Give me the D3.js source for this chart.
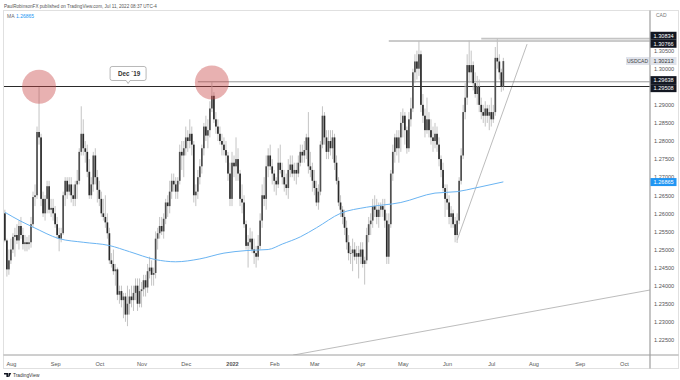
<!DOCTYPE html>
<html><head><meta charset="utf-8">
<script src="https://cdn.jsdelivr.net/npm/d3@7"></script>
<style>body{margin:0;background:#fff}svg{display:block}text{font-family:"Liberation Sans",Arial,sans-serif}</style>
</head><body><svg id="c" width="680" height="380"></svg>
<script>
// ---------- DATA (USDCAD daily, [open, high, low, close]) ----------
const jul21=[[1.2600,1.2610,1.2520,1.2525],[1.2525,1.2530,1.2425,1.2445],[1.2445,1.2500,1.2430,1.2470]];
const aug21=[[1.2470,1.2530,1.2460,1.2500],[1.2500,1.2545,1.2490,1.2535],[1.2535,1.2560,1.2480,1.2540],[1.2540,1.2570,1.2515,1.2525],[1.2525,1.2580,1.2500,1.2565],
[1.2565,1.2590,1.2530,1.2540],[1.2540,1.2560,1.2500,1.2515],[1.2515,1.2540,1.2495,1.2520],[1.2520,1.2535,1.2495,1.2515],[1.2515,1.2540,1.2500,1.2520],
[1.2520,1.2590,1.2505,1.2570],[1.2570,1.2660,1.2560,1.2645],[1.2645,1.2680,1.2620,1.2650],[1.2650,1.2840,1.2640,1.2825],[1.2825,1.2949,1.2790,1.2810],
[1.2810,1.2820,1.2620,1.2640],[1.2640,1.2660,1.2590,1.2600],[1.2600,1.2650,1.2580,1.2640],[1.2640,1.2690,1.2600,1.2675],[1.2675,1.2690,1.2600,1.2610],
[1.2610,1.2640,1.2590,1.2615],[1.2615,1.2640,1.2580,1.2600]];
const sep21=[[1.2600,1.2620,1.2560,1.2570],[1.2570,1.2590,1.2530,1.2540],[1.2540,1.2560,1.2495,1.2530],[1.2530,1.2560,1.2520,1.2545],[1.2545,1.2660,1.2540,1.2650],
[1.2650,1.2700,1.2620,1.2690],[1.2690,1.2700,1.2640,1.2660],[1.2660,1.2700,1.2650,1.2680],[1.2680,1.2700,1.2630,1.2650],[1.2650,1.2680,1.2620,1.2640],
[1.2640,1.2690,1.2620,1.2680],[1.2680,1.2720,1.2640,1.2690],[1.2690,1.2780,1.2680,1.2770],[1.2770,1.2896,1.2760,1.2820],[1.2820,1.2860,1.2760,1.2780],
[1.2780,1.2800,1.2740,1.2770],[1.2770,1.2790,1.2700,1.2715],[1.2715,1.2750,1.2640,1.2650],[1.2650,1.2700,1.2640,1.2680],[1.2680,1.2770,1.2660,1.2760],
[1.2760,1.2780,1.2680,1.2700],[1.2700,1.2720,1.2630,1.2665]];
const oct21=[[1.2665,1.2690,1.2620,1.2640],[1.2640,1.2660,1.2590,1.2600],[1.2600,1.2640,1.2580,1.2590],[1.2590,1.2650,1.2560,1.2575],[1.2575,1.2600,1.2530,1.2545],
[1.2545,1.2560,1.2460,1.2470],[1.2470,1.2490,1.2450,1.2460],[1.2460,1.2500,1.2430,1.2440],[1.2440,1.2460,1.2400,1.2445],[1.2445,1.2450,1.2360,1.2375],
[1.2375,1.2400,1.2350,1.2385],[1.2385,1.2400,1.2340,1.2360],[1.2360,1.2380,1.2310,1.2370],[1.2370,1.2380,1.2300,1.2320],[1.2320,1.2400,1.2288,1.2350],
[1.2350,1.2390,1.2320,1.2370],[1.2370,1.2400,1.2340,1.2360],[1.2360,1.2400,1.2330,1.2380],[1.2380,1.2420,1.2360,1.2400],[1.2400,1.2420,1.2330,1.2350],
[1.2350,1.2420,1.2340,1.2385]];
const nov21=[[1.2385,1.2410,1.2340,1.2390],[1.2390,1.2430,1.2370,1.2415],[1.2415,1.2430,1.2370,1.2395],[1.2395,1.2460,1.2380,1.2440],[1.2440,1.2480,1.2420,1.2450],
[1.2450,1.2470,1.2400,1.2430],[1.2430,1.2450,1.2400,1.2435],[1.2435,1.2550,1.2420,1.2530],[1.2530,1.2560,1.2500,1.2545],[1.2545,1.2590,1.2530,1.2565],
[1.2565,1.2590,1.2540,1.2550],[1.2550,1.2600,1.2530,1.2585],[1.2585,1.2640,1.2570,1.2630],[1.2630,1.2650,1.2590,1.2620],[1.2620,1.2690,1.2600,1.2660],
[1.2660,1.2710,1.2640,1.2690],[1.2690,1.2710,1.2660,1.2680],[1.2680,1.2700,1.2640,1.2660],[1.2660,1.2700,1.2640,1.2690],[1.2690,1.2790,1.2680,1.2770],
[1.2770,1.2800,1.2720,1.2760],[1.2760,1.2800,1.2700,1.2780]];
const dec21=[[1.2780,1.2840,1.2760,1.2810],[1.2810,1.2830,1.2770,1.2800],[1.2800,1.2860,1.2780,1.2820],[1.2820,1.2840,1.2760,1.2790],[1.2790,1.2800,1.2630,1.2650],
[1.2650,1.2680,1.2620,1.2660],[1.2660,1.2720,1.2640,1.2700],[1.2700,1.2750,1.2680,1.2730],[1.2730,1.2790,1.2710,1.2780],[1.2780,1.2850,1.2760,1.2840],
[1.2840,1.2870,1.2800,1.2815],[1.2815,1.2860,1.2780,1.2830],[1.2830,1.2910,1.2810,1.2890],[1.2890,1.2964,1.2880,1.2925],[1.2925,1.2935,1.2850,1.2860],
[1.2860,1.2880,1.2820,1.2840],[1.2840,1.2860,1.2800,1.2820],[1.2820,1.2840,1.2790,1.2800],[1.2800,1.2820,1.2760,1.2790],[1.2790,1.2810,1.2760,1.2775],
[1.2775,1.2800,1.2740,1.2760],[1.2760,1.2770,1.2690,1.2710],[1.2710,1.2740,1.2620,1.2640]];
const jan22=[[1.2640,1.2770,1.2620,1.2740],[1.2740,1.2760,1.2700,1.2730],[1.2730,1.2810,1.2690,1.2750],[1.2750,1.2780,1.2690,1.2710],[1.2710,1.2720,1.2620,1.2640],
[1.2640,1.2680,1.2600,1.2630],[1.2630,1.2650,1.2560,1.2570],[1.2570,1.2580,1.2500,1.2510],[1.2510,1.2540,1.2450,1.2520],[1.2520,1.2560,1.2500,1.2530],
[1.2530,1.2550,1.2490,1.2500],[1.2500,1.2530,1.2460,1.2490],[1.2490,1.2510,1.2450,1.2480],[1.2480,1.2540,1.2470,1.2510],[1.2510,1.2600,1.2500,1.2580],
[1.2580,1.2680,1.2560,1.2650],[1.2650,1.2700,1.2620,1.2640],[1.2640,1.2760,1.2610,1.2730],[1.2730,1.2780,1.2700,1.2760],[1.2760,1.2790,1.2720,1.2730],
[1.2730,1.2750,1.2680,1.2710]];
const feb22=[[1.2710,1.2720,1.2660,1.2690],[1.2690,1.2700,1.2650,1.2680],[1.2680,1.2780,1.2670,1.2740],[1.2740,1.2790,1.2710,1.2720],[1.2720,1.2740,1.2680,1.2700],
[1.2700,1.2720,1.2660,1.2680],[1.2680,1.2710,1.2650,1.2670],[1.2670,1.2750,1.2640,1.2720],[1.2720,1.2760,1.2700,1.2735],[1.2735,1.2760,1.2700,1.2710],
[1.2710,1.2740,1.2690,1.2720],[1.2720,1.2740,1.2680,1.2710],[1.2710,1.2760,1.2700,1.2740],[1.2740,1.2790,1.2730,1.2770],[1.2770,1.2790,1.2740,1.2760],
[1.2760,1.2800,1.2740,1.2775],[1.2775,1.2820,1.2750,1.2810],[1.2810,1.2880,1.2710,1.2730],[1.2730,1.2770,1.2700,1.2720],[1.2720,1.2740,1.2660,1.2690]];
const mar22=[[1.2690,1.2720,1.2650,1.2670],[1.2670,1.2690,1.2620,1.2630],[1.2630,1.2680,1.2610,1.2660],[1.2660,1.2800,1.2650,1.2790],[1.2790,1.2896,1.2780,1.2870],
[1.2870,1.2880,1.2790,1.2810],[1.2810,1.2830,1.2750,1.2770],[1.2770,1.2830,1.2750,1.2800],[1.2800,1.2830,1.2760,1.2780],[1.2780,1.2830,1.2750,1.2810],
[1.2810,1.2820,1.2720,1.2740],[1.2740,1.2760,1.2680,1.2690],[1.2690,1.2700,1.2620,1.2630],[1.2630,1.2650,1.2590,1.2610],[1.2610,1.2620,1.2570,1.2590],
[1.2590,1.2610,1.2540,1.2560],[1.2560,1.2580,1.2500,1.2520],[1.2520,1.2540,1.2470,1.2490],[1.2490,1.2510,1.2460,1.2490],[1.2490,1.2530,1.2440,1.2500],
[1.2500,1.2520,1.2470,1.2480],[1.2480,1.2510,1.2460,1.2490],[1.2490,1.2510,1.2420,1.2480]];
const apr22=[[1.2480,1.2520,1.2460,1.2500],[1.2500,1.2520,1.2450,1.2460],[1.2460,1.2480,1.2403,1.2470],[1.2470,1.2560,1.2460,1.2540],[1.2540,1.2590,1.2520,1.2570],
[1.2570,1.2600,1.2540,1.2580],[1.2580,1.2640,1.2560,1.2620],[1.2620,1.2650,1.2590,1.2610],[1.2610,1.2640,1.2570,1.2590],[1.2590,1.2630,1.2560,1.2610],
[1.2610,1.2630,1.2590,1.2620],[1.2620,1.2640,1.2590,1.2610],[1.2610,1.2640,1.2560,1.2580],[1.2580,1.2600,1.2460,1.2480],[1.2480,1.2600,1.2460,1.2570],
[1.2570,1.2720,1.2560,1.2710],[1.2710,1.2790,1.2690,1.2770],[1.2770,1.2820,1.2740,1.2810],[1.2810,1.2830,1.2760,1.2780],[1.2780,1.2830,1.2740,1.2810],
[1.2810,1.2880,1.2770,1.2850]];
const may22=[[1.2850,1.2890,1.2810,1.2870],[1.2870,1.2880,1.2790,1.2830],[1.2830,1.2840,1.2765,1.2780],[1.2780,1.2880,1.2770,1.2860],[1.2860,1.2920,1.2840,1.2890],
[1.2890,1.3000,1.2880,1.2990],[1.2990,1.3040,1.2960,1.3020],[1.3020,1.3050,1.2970,1.3000],[1.3000,1.3077,1.2980,1.3040],[1.3040,1.3050,1.2880,1.2900],
[1.2900,1.2930,1.2850,1.2870],[1.2870,1.2890,1.2810,1.2830],[1.2830,1.2920,1.2820,1.2860],[1.2860,1.2880,1.2810,1.2830],[1.2830,1.2860,1.2790,1.2810],
[1.2810,1.2840,1.2770,1.2800],[1.2800,1.2850,1.2780,1.2820],[1.2820,1.2840,1.2770,1.2790],[1.2790,1.2810,1.2730,1.2750],[1.2750,1.2760,1.2700,1.2720],
[1.2720,1.2740,1.2660,1.2670],[1.2670,1.2680,1.2590,1.2640]];
const jun22=[[1.2640,1.2680,1.2610,1.2630],[1.2630,1.2650,1.2570,1.2590],[1.2590,1.2620,1.2560,1.2600],[1.2600,1.2610,1.2560,1.2570],[1.2570,1.2590,1.2520,1.2540],
[1.2540,1.2600,1.2518,1.2580],[1.2580,1.2700,1.2570,1.2690],[1.2690,1.2780,1.2680,1.2760],[1.2760,1.2900,1.2750,1.2880],[1.2880,1.2960,1.2860,1.2920],
[1.2920,1.3040,1.2900,1.3010],[1.3010,1.3078,1.2960,1.2990],[1.2990,1.3050,1.2960,1.3010],[1.3010,1.3020,1.2940,1.2960],[1.2960,1.2990,1.2920,1.2930],
[1.2930,1.2980,1.2900,1.2950],[1.2950,1.2970,1.2880,1.2900],[1.2900,1.2920,1.2860,1.2880],[1.2880,1.2900,1.2850,1.2870],[1.2870,1.2910,1.2840,1.2890],
[1.2890,1.2900,1.2850,1.2870],[1.2870,1.2900,1.2830,1.2880]];
const jul22=[[1.2880,1.2920,1.2840,1.2860],[1.2860,1.2900,1.2850,1.2880],[1.2880,1.3060,1.2870,1.3030],[1.3030,1.3083,1.3000,1.3020],[1.3020,1.3040,1.2970,1.2990],
[1.2990,1.3000,1.2936,1.2950],[1.2950,1.3030,1.2940,1.3021]];

// moving average (bar index, value)
const maIdx=[0,8,14,27,39,52,62,75,85,97,109,120,131,138,147,155,167,180,197,214,225,234,248];
const maVal=[1.2603,1.2578,1.2562,1.2530,1.2520,1.2511,1.2494,1.2472,1.2466,1.2474,1.2490,1.2497,1.2500,1.2515,1.2535,1.2560,1.2600,1.2617,1.2630,1.2656,1.2660,1.2670,1.2687];

const monthLabels=["Aug","Sep","Oct","Nov","Dec","2022","Feb","Mar","Apr","May","Jun","Jul","Aug","Sep","Oct"];
const priceTicks=[1.305,1.300,1.290,1.285,1.280,1.275,1.270,1.265,1.260,1.255,1.250,1.245,1.240,1.235,1.230,1.225];
const levelPrices=[1.30834,1.30766,1.29638,1.29508];
const levelStartIdx=[237,191,96,-2];
const lastPrice=1.30213, maLast=1.26865;
const trendUp=[[225,1.2526],[259.8,1.3068]];
const trendLow=[[143.4,1.2208],[321,1.2388]];
const circleAt=[[17,1.2950],[103,1.2962]];
const noteText="Dec `19", noteAt=[61.3,1.29508];

// ---------- DRAW ----------
const svg=d3.select("#c");
const plotL=4,plotR=650,plotT=11,plotB=355;
const candles=[].concat(jul21,aug21,sep21,oct21,nov21,dec21,jan22,feb22,mar22,apr22,may22,jun22,jul22)
  .map((d,i)=>({i,o:d[0],h:d[1],l:d[2],c:d[3]}));
const x=d3.scaleLinear().domain([0,1]).range([4.87,6.88]);
const y=d3.scaleLinear().domain([1.25,1.30]).range([249.5,68.7]);

svg.append("rect").attr("width",680).attr("height",380).attr("fill","#fff");
svg.append("defs").append("clipPath").attr("id","clip").append("rect")
  .attr("x",plotL).attr("y",plotT).attr("width",plotR-plotL).attr("height",plotB-plotT);

// frame
svg.append("rect").attr("x",3.5).attr("y",10.5).attr("width",675).attr("height",358)
  .attr("fill","none").attr("stroke","#e0e0e0");
const g=svg.append("g").attr("clip-path","url(#clip)");

// trend lines
[trendUp,trendLow].forEach(t=>{
  g.append("line").attr("x1",x(t[0][0])).attr("y1",y(t[0][1])).attr("x2",x(t[1][0])).attr("y2",y(t[1][1]))
   .attr("stroke","#b4b4b4").attr("stroke-width",0.9);
});

// horizontal levels
const lvlStyle=[{c:"#c4c4c4",w:1.8},{c:"#8a8a8a",w:0.9},{c:"#8a8a8a",w:0.9},{c:"#2a2a2a",w:1.2}];
levelPrices.forEach((p,k)=>{
  g.append("line").attr("x1",x(levelStartIdx[k])).attr("x2",plotR).attr("y1",y(p)).attr("y2",y(p))
   .attr("stroke",lvlStyle[k].c).attr("stroke-width",lvlStyle[k].w);
});

// candles
const cg=g.append("g");
cg.selectAll("line.w").data(candles).join("line").attr("class","w")
  .attr("x1",d=>x(d.i)).attr("x2",d=>x(d.i)).attr("y1",d=>y(d.h)).attr("y2",d=>y(d.l))
  .attr("stroke","#bdbdbd").attr("stroke-width",0.9);
cg.selectAll("rect.b").data(candles).join("rect").attr("class","b")
  .attr("x",d=>x(d.i)-0.85).attr("width",1.7)
  .attr("y",d=>y(Math.max(d.o,d.c)))
  .attr("height",d=>Math.max(0.8,Math.abs(y(d.o)-y(d.c))))
  .attr("fill",d=>d.c>=d.o?"#505050":"#2a2a2a");

// MA
const maPts=maIdx.map((v,k)=>[v,maVal[k]]);
g.append("path").datum(maPts).attr("fill","none").attr("stroke","#6ab4f2").attr("stroke-width",1)
  .attr("d",d3.line().x(d=>x(d[0])).y(d=>y(d[1])).curve(d3.curveMonotoneX));

// circles
g.selectAll("circle.hl").data(circleAt).join("circle").attr("class","hl")
  .attr("cx",d=>x(d[0])).attr("cy",d=>y(d[1])).attr("r",17)
  .attr("fill","rgb(200,70,70)").attr("fill-opacity",0.42);

// note
const nx=x(noteAt[0]), ny=y(noteAt[1]);
const note=svg.append("g");
note.append("path").attr("d",`M${nx-16},${ny-20} h32 a2,2 0 0 1 2,2 v10 a2,2 0 0 1 -2,2 h-14 l-2,3 l-2,-3 h-14 a2,2 0 0 1 -2,-2 v-10 a2,2 0 0 1 2,-2z`)
  .attr("fill","#fff").attr("stroke","#9a9a9a").attr("stroke-width",0.7);
note.append("text").attr("x",nx+1).attr("y",ny-10.5).attr("text-anchor","middle")
  .attr("font-size",6.3).attr("font-weight","bold").attr("fill","#333").text(noteText);

// axes lines
svg.append("line").attr("x1",plotR).attr("x2",plotR).attr("y1",10.5).attr("y2",368.5).attr("stroke","#9e9e9e").attr("stroke-width",1.2);
svg.append("line").attr("x1",3.5).attr("x2",678.5).attr("y1",plotB).attr("y2",plotB).attr("stroke","#9e9e9e").attr("stroke-width",1);

// x axis (trading days)
const days=d3.utcDay.range(new Date(Date.UTC(2021,6,28)),new Date(Date.UTC(2022,10,1)))
  .filter(d=>d.getUTCDay()!==0&&d.getUTCDay()!==6);
const tickIdx=[];
days.forEach((d,i)=>{ if(i>0&&d.getUTCMonth()!==days[i-1].getUTCMonth()) tickIdx.push(i); });
const xa=svg.append("g").attr("transform",`translate(0,${plotB})`)
  .call(d3.axisBottom(x).tickValues(tickIdx).tickFormat((d,k)=>monthLabels[k]).tickSize(0).tickPadding(7));
xa.select(".domain").remove();
xa.selectAll("text").attr("font-size",5.6).attr("fill","#555").attr("font-family","Liberation Sans, Arial, sans-serif")
  .attr("font-weight",(d,k)=>monthLabels[k]==="2022"?"bold":"normal");

// y axis (right)
const ya=svg.append("g").attr("transform",`translate(${plotR},0)`)
  .call(d3.axisRight(y).tickValues(priceTicks).tickFormat(d3.format(".5f")).tickSize(0).tickPadding(4));
ya.select(".domain").remove();
ya.selectAll("text").attr("font-size",5.6).attr("fill","#555").attr("font-family","Liberation Sans, Arial, sans-serif");

// price labels for levels (spread pairs apart)
function lab(p,yy,bg,fg){
  svg.append("rect").attr("x",plotR+0.5).attr("y",yy-4).attr("width",26).attr("height",8).attr("fill",bg);
  svg.append("text").attr("x",plotR+3.5).attr("y",yy+2).attr("font-size",5.6).attr("fill",fg).text(d3.format(".5f")(p));
}
const ly=levelPrices.map(p=>y(p));
for(let k=0;k<ly.length;k+=2){
  const a=ly[k],b=ly[k+1],m=(a+b)/2;
  if(Math.abs(a-b)<8){ ly[k]=m-4; ly[k+1]=m+4; }
}
levelPrices.forEach((p,k)=>lab(p,ly[k],"#131722","#fff"));
lab(lastPrice,y(lastPrice),"#e0e3eb","#333");
svg.append("rect").attr("x",626).attr("y",y(lastPrice)-4).attr("width",23).attr("height",8).attr("fill","#e0e3eb");
svg.append("text").attr("x",637.5).attr("y",y(lastPrice)+2).attr("text-anchor","middle").attr("font-size",5).attr("fill","#444").text("USDCAD");
lab(maLast,y(maLast),"#2196f3","#fff");

// header texts
svg.append("text").attr("x",4).attr("y",8).attr("font-size",4.6).attr("fill","#555")
  .text("PaulRobinsonFX published on TradingView.com, Jul 11, 2022 08:37 UTC-4");
svg.append("text").attr("x",7).attr("y",18).attr("font-size",5).attr("fill","#666").text("MA");
svg.append("text").attr("x",16).attr("y",18).attr("font-size",5).attr("fill","#2196f3").text(d3.format(".5f")(maLast));
svg.append("text").attr("x",656).attr("y",17).attr("font-size",5).attr("fill","#777").text("CAD");

// TradingView logo
const lg=svg.append("g").attr("transform","translate(4,373)");
lg.append("path").attr("d","M0,0 h4 v4 h-1.6 v-2.5 h-2.4z M4.6,0 h2.6 l-2,4 h-1z").attr("fill","#131722");
lg.append("text").attr("x",9).attr("y",4).attr("font-size",4.8).attr("fill","#333").text("TradingView");
</script></body></html>
